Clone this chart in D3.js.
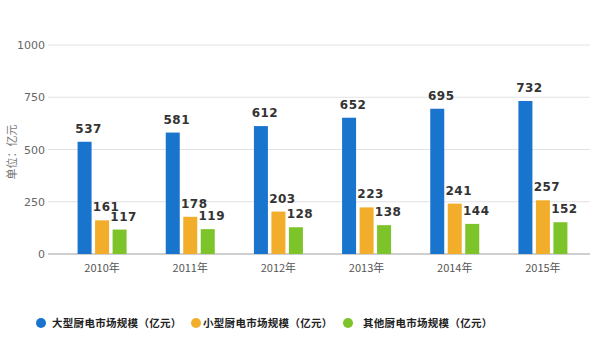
<!DOCTYPE html>
<html>
<head>
<meta charset="utf-8">
<script src="https://cdn.jsdelivr.net/npm/d3@7"></script>
<style>
  html, body { margin: 0; padding: 0; background: #fff; }
  svg { display: block; font-family: "Noto Sans CJK SC", "DejaVu Sans", sans-serif; }
</style>
</head>
<body>
<div id="chart"></div>
<script>
const years = ["2010年", "2011年", "2012年", "2013年", "2014年", "2015年"];
const seriesNames = ["大型厨电市场规模（亿元）", "小型厨电市场规模（亿元）", "其他厨电市场规模（亿元）"];
const largeValues = [537, 581, 612, 652, 695, 732];
const smallValues = [161, 178, 203, 223, 241, 257];
const otherValues = [117, 119, 128, 138, 144, 152];
const yTicks = [0, 250, 500, 750, 1000];
const colors = ["#1874cd", "#f2ae2b", "#7cc42a"];

const seriesValues = [largeValues, smallValues, otherValues];
const W = 600, H = 360;

const svg = d3.select("#chart").append("svg").attr("width", W).attr("height", H);

const y = d3.scaleLinear().domain([0, 1000]).range([254, 45]);
const x = d3.scaleBand().domain(years).range([58, 587]);
const xs = d3.scaleBand().domain(d3.range(3)).range([-24.5, 24.5]).paddingInner(0.2);

// grid
svg.append("g")
  .selectAll("line")
  .data(yTicks.filter(d => d > 0))
  .join("line")
  .attr("x1", 48).attr("x2", 590)
  .attr("y1", d => y(d)).attr("y2", d => y(d))
  .attr("stroke", "#e2e2e2");

svg.append("line")
  .attr("x1", 48).attr("x2", 590)
  .attr("y1", y(0)).attr("y2", y(0))
  .attr("stroke", "#a0a0a0");

svg.append("g")
  .selectAll("text")
  .data(yTicks)
  .join("text")
  .attr("x", 45)
  .attr("y", d => y(d) + 4)
  .attr("text-anchor", "end")
  .attr("fill", "#666")
  .attr("font-size", 11)
  .attr("font-family", "DejaVu Sans, sans-serif")
  .text(d => d);

svg.append("text")
  .attr("transform", `translate(16,152) rotate(-90)`)
  .attr("text-anchor", "middle")
  .attr("fill", "#777")
  .attr("font-size", 11)
  .text("单位：亿元");

// x labels
svg.append("g")
  .selectAll("text")
  .data(years)
  .join("text")
  .attr("x", d => x(d) + x.bandwidth() / 2)
  .attr("y", 272)
  .attr("text-anchor", "middle")
  .attr("fill", "#555")
  .attr("font-size", 11)
  .text(d => d);

// bars
const bars = [];
seriesValues.forEach((vals, si) => vals.forEach((v, i) => bars.push({ si, year: years[i], v })));

const g = svg.append("g");
g.selectAll("rect")
  .data(bars)
  .join("rect")
  .attr("x", d => x(d.year) + x.bandwidth() / 2 + xs(d.si))
  .attr("width", xs.bandwidth())
  .attr("y", d => y(d.v))
  .attr("height", d => y(0) - y(d.v))
  .attr("fill", d => colors[d.si]);

g.selectAll("text")
  .data(bars)
  .join("text")
  .attr("x", d => x(d.year) + x.bandwidth() / 2 + xs(d.si) + xs.bandwidth() / 2 + 4)
  .attr("y", d => y(d.v) - 9)
  .attr("text-anchor", "middle")
  .attr("fill", "#333")
  .attr("font-size", 12)
  .attr("font-weight", "bold")
  .attr("font-family", "DejaVu Sans, sans-serif")
  .attr("letter-spacing", 0.5)
  .text(d => d.v);

// legend
const legendX = [41, 196, 348];
const legendTextDx = [11, 7, 15];
const lg = svg.append("g")
  .selectAll("g")
  .data(seriesNames)
  .join("g")
  .attr("transform", (d, i) => `translate(${legendX[i]},323)`);
lg.append("circle").attr("r", 5).attr("fill", (d, i) => colors[i]);
lg.append("text")
  .attr("x", (d, i) => legendTextDx[i])
  .attr("y", 4)
  .attr("fill", "#222")
  .attr("font-size", 10.5)
  .attr("font-weight", "bold")
  .attr("letter-spacing", 0.3)
  .text(d => d);
</script>
</body>
</html>
